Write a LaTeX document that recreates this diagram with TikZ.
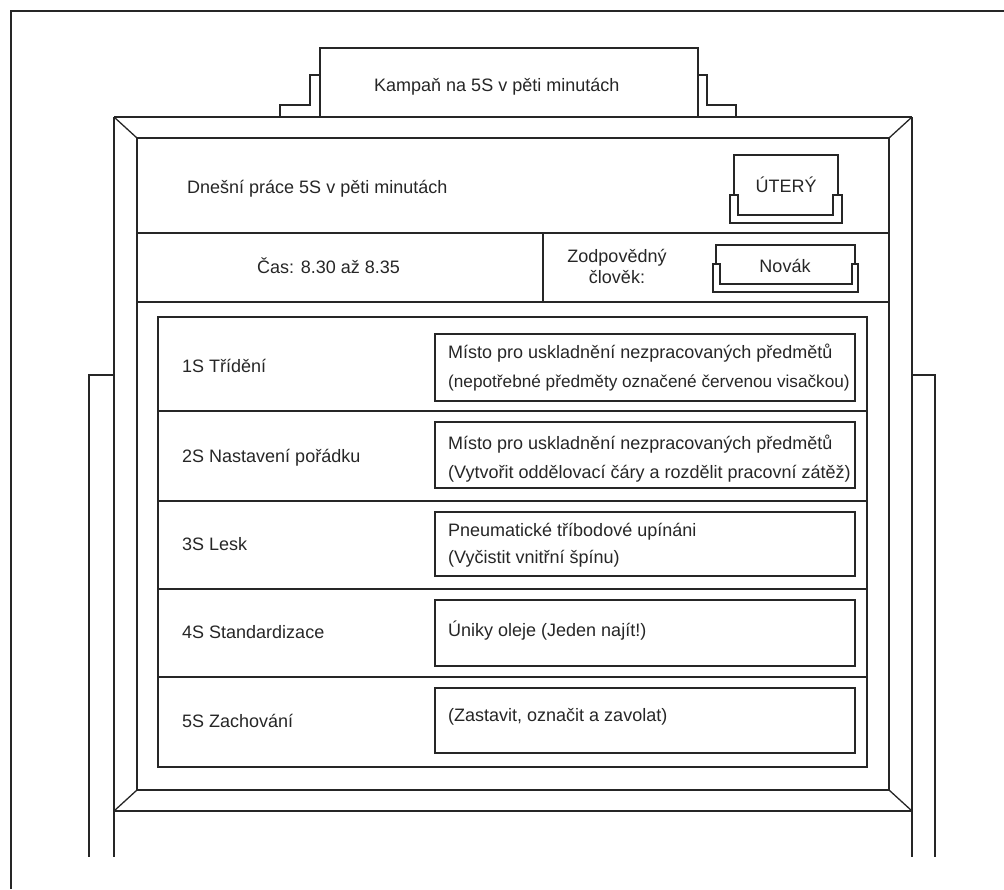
\documentclass[tikz,border=0pt]{standalone}
\usepackage{fontspec}
\setmainfont{Liberation Sans}
\begin{document}
\begin{tikzpicture}[x=1pt,y=-1pt,line join=miter]
\tikzset{
  ln/.style={draw=black!85, line width=1.3pt},
  pageframe/.style={draw=black!85, line width=2pt},
  txt/.style={font=\fontsize{18}{21}\selectfont, text=black!85, inner sep=0pt, anchor=base west},
  ctxt/.style={font=\fontsize{18}{21}\selectfont, text=black!85, inner sep=0pt, anchor=base},
}
\useasboundingbox (0,0) rectangle (1004,889);

% page frame
\draw[pageframe] (11,889) -- (11,11) -- (1004,11);

% stand legs
\draw[ln] (114,375) -- (89,375) -- (89,857);
\draw[ln] (912,375) -- (935,375) -- (935,857);

% board bezel
\draw[ln] (114,117) -- (114,857);
\draw[ln] (912,117) -- (912,857);
\draw[ln] (114,117) -- (912,117);
\draw[ln] (114,811) -- (912,811);
\draw[ln] (137,138) rectangle (889,790);
\draw[ln] (114,117) -- (137,138);
\draw[ln] (912,117) -- (889,138);
\draw[ln] (114,811) -- (137,790);
\draw[ln] (912,811) -- (889,790);

% title tab
\draw[ln] (280,117) -- (280,105) -- (310,105) -- (310,75) -- (320,75);
\draw[ln] (320,117) -- (320,48) -- (698,48) -- (698,117);
\draw[ln] (698,75) -- (707,75) -- (707,105) -- (736,105) -- (736,117);
\node[txt] (title) at (374,91) {Kampaň na 5S v pěti minutách};

% header rows
\draw[ln] (137,233) -- (889,233);
\draw[ln] (137,302) -- (889,302);
\draw[ln] (543,233) -- (543,302);
\node[txt] (today) at (187,193) {Dnešní práce 5S v pěti minutách};
\node[txt] (time) at (257,273) {Čas: 8.30 až 8.35};
\node[font=\fontsize{18}{21}\selectfont, text=black!85, inner sep=0pt, align=center, anchor=base]
  (resp) at (617,283) {Zodpovědný\\člověk:};

% day card in holder
\draw[ln] (734,195) -- (734,155) -- (838,155) -- (838,195);
\draw[ln] (730,195) -- (730,223) -- (842,223) -- (842,195) -- (833,195)
  -- (833,215) -- (738,215) -- (738,195) -- cycle;
\node[ctxt] (day) at (786,192) {ÚTERÝ};

% name card in holder
\draw[ln] (716,264) -- (716,245) -- (855,245) -- (855,264);
\draw[ln] (713,264) -- (713,292) -- (858,292) -- (858,264) -- (852,264)
  -- (852,284) -- (720,284) -- (720,264) -- cycle;
\node[ctxt] (name) at (785,272) {Novák};

% 5S table
\draw[ln] (158,317) rectangle (867,767);
\foreach \y in {411,501,589,677} \draw[ln] (158,\y) -- (867,\y);
\foreach \t/\b in {334/401,422/488,512/576,600/666,688/753}
  \draw[ln] (435,\t) rectangle (855,\b);

\node[txt] (s1) at (182,372) {1S Třídění};
\node[txt] (s2) at (182,462) {2S Nastavení pořádku};
\node[txt] (s3) at (182,550) {3S Lesk};
\node[txt] (s4) at (182,638) {4S Standardizace};
\node[txt] (s5) at (182,727) {5S Zachování};

\node[txt] (t1a) at (448,358) {Místo pro uskladnění nezpracovaných předmětů};
\node[txt, font=\fontsize{17.2}{21}\selectfont] (t1b) at (448,387) {(nepotřebné předměty označené červenou visačkou)};
\node[txt] (t2a) at (448,449) {Místo pro uskladnění nezpracovaných předmětů};
\node[txt] (t2b) at (448,478) {(Vytvořit oddělovací čáry a rozdělit pracovní zátěž)};
\node[txt] (t3a) at (448,536) {Pneumatické tříbodové upínáni};
\node[txt] (t3b) at (448,563) {(Vyčistit vnitřní špínu)};
\node[txt] (t4) at (448,636) {Úniky oleje (Jeden najít!)};
\node[txt] (t5) at (448,721) {(Zastavit, označit a zavolat)};
\end{tikzpicture}
\end{document}
